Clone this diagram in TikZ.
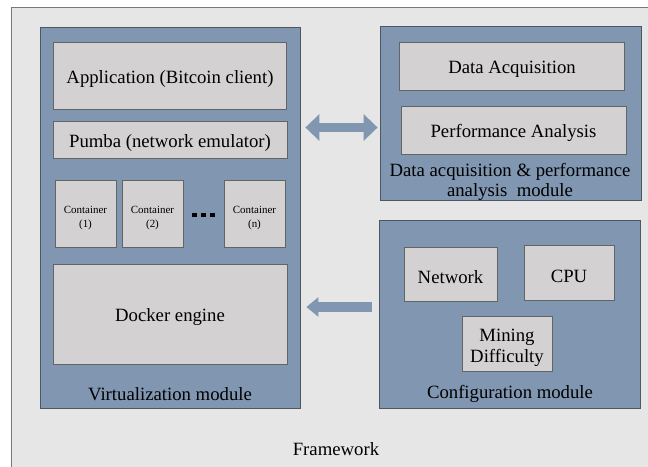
\documentclass[tikz,border=0pt]{standalone}
\usepackage{fontspec}
\setmainfont{Liberation Serif}
\usetikzlibrary{positioning, arrows.meta, calc}

\definecolor{framefill}{RGB}{230,230,230}
\definecolor{frameline}{RGB}{120,120,120}
\definecolor{modfill}{RGB}{128,150,177}
\definecolor{modline}{RGB}{78,86,98}
\definecolor{partfill}{RGB}{211,209,209}
\definecolor{partline}{RGB}{100,100,100}

\newcommand{\lift}[1]{\rule{0pt}{#1}}

\begin{document}
\begin{tikzpicture}[
    x=1bp, y=-1bp,
    module/.style={rectangle, draw=modline, fill=modfill, line width=0.8pt, inner sep=0pt},
    partbox/.style={rectangle, draw=partline, fill=partfill, line width=0.7pt, inner sep=0pt, align=center},
    part/.style={partbox, font=\fontsize{18.8}{22}\selectfont, execute at begin node={\lift{19.5bp}}},
    small/.style={partbox, font=\fontsize{11}{14}\selectfont},
    label/.style={align=center, font=\fontsize{18.8}{20.5}\selectfont},
    oneway/.style={-{Triangle[length=12bp, width=19bp]}, line width=9.5bp, modfill},
    twoway/.style={{Triangle[length=14bp, width=26bp]}-{Triangle[length=14bp, width=26bp]}, line width=9bp, modfill}
]

\clip (0,0) rectangle (648,467);
\fill[white] (0,0) rectangle (648,467);

% Framework
\draw[fill=framefill, draw=frameline, line width=0.8pt] (11,7) rectangle (670,490);
\node[label] (frame) at (336,449) {Framework};

% Virtualization module
\node[module, minimum width=260bp, minimum height=381bp] (vmod) at (170,217.5) {};
\node[part, minimum width=233bp, minimum height=67bp] (app) at (170,75.5) {Application (Bitcoin client)};
\node[part, minimum width=234bp, minimum height=37bp] (pumba) at (170,139.5) {Pumba (network emulator)};
\node[small, minimum width=61bp, minimum height=67bp] (c1) at (85.5,213.5) {\lift{16.5bp}Container\\(1)};
\node[small, minimum width=61bp, minimum height=67bp] (c2) at (152.5,213.5) {\lift{16.5bp}Container\\(2)};
\node[small, minimum width=61bp, minimum height=67bp] (cn) at (254.5,213.5) {\lift{16.5bp}Container\\(n)};
\node[inner sep=0pt] (dots) at (203.5,215) {\rule{4.5bp}{4.5bp}\hspace{4.5bp}\rule{4.5bp}{4.5bp}\hspace{4.5bp}\rule{4.5bp}{4.5bp}};
\node[part, minimum width=234bp, minimum height=100bp] (docker) at (170,314) {Docker engine};
\node[label] (vlabel) at (170,394) {Virtualization module};

% Data acquisition & performance analysis module
\node[module, minimum width=261bp, minimum height=174bp] (dmod) at (510.5,113) {};
\node[part, minimum width=225bp, minimum height=48bp] (daq) at (512,66) {Data Acquisition};
\node[part, minimum width=225bp, minimum height=48bp] (perf) at (513.5,130) {Performance Analysis};
\node[label] (dlabel) at (510,182) {Data acquisition \& performance\\analysis\ \ module};

% Configuration module
\node[module, minimum width=261bp, minimum height=188bp] (cmod) at (509.5,314) {};
\node[part, minimum width=93bp, minimum height=54bp] (net) at (450.5,274) {Network};
\node[part, minimum width=90bp, minimum height=55bp] (cpu) at (569,272.5) {CPU};
\node[part, minimum width=90bp, minimum height=55bp] (mining) at (507,343.5) {\lift{21bp}Mining\\Difficulty};
\node[label] (clabel) at (510,393.5) {Configuration module};

% Connectors
\coordinate (da) at (340,127.5);
\coordinate (ca) at (340,307);
\draw[twoway, shorten <=5bp, shorten >=2bp] (vmod.east |- da) -- (dmod.west |- da);
\draw[oneway, shorten <=7bp, shorten >=6bp] (cmod.west |- ca) -- (vmod.east |- ca);

\end{tikzpicture}
\end{document}
